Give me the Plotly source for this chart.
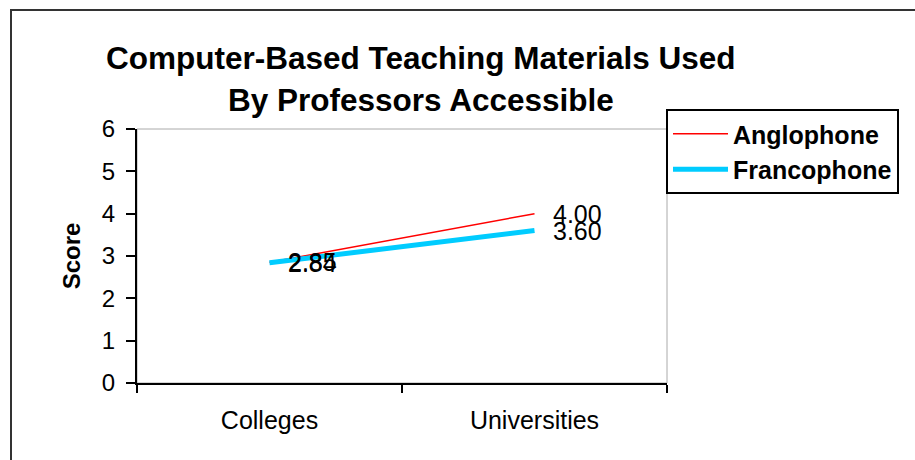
import plotly.graph_objects as go

categories = ["Colleges", "Universities"]
anglophone = [2.85, 4.00]
francophone = [2.84, 3.60]
series_names = ["Anglophone", "Francophone"]
title_lines = ["Computer-Based Teaching Materials Used", "By Professors Accessible"]

FONT = "Liberation Sans, Arial, sans-serif"

fig = go.Figure()
fig.add_trace(go.Scatter(x=categories, y=anglophone, mode="lines", name=series_names[0],
                         legendgroup="a", line=dict(color="#ff0000", width=1.5)))
fig.add_trace(go.Scatter(x=categories, y=francophone, mode="lines", name=series_names[1],
                         legendgroup="f", line=dict(color="#00ccff", width=5)))

for vals in (anglophone, francophone):
    for c, v in zip(categories, vals):
        fig.add_annotation(x=c, y=v, text=f"{v:.2f}", showarrow=False, xanchor="left",
                           yanchor="middle", xshift=16, font=dict(family=FONT, size=25, color="black"))

fig.add_annotation(xref="paper", yref="paper", x=(421 - 137) / 530, y=(383 - 58) / 254,
                   text=f"<b>{title_lines[0]}</b>", showarrow=False, xanchor="center", yanchor="middle",
                   font=dict(family=FONT, size=31.5, color="black"))
fig.add_annotation(xref="paper", yref="paper", x=(421 - 137) / 530, y=(383 - 100) / 254,
                   text=f"<b>{title_lines[1]}</b>", showarrow=False, xanchor="center", yanchor="middle",
                   font=dict(family=FONT, size=31.5, color="black"))

# outer frame
fig.add_shape(type="rect", xref="paper", yref="paper",
              x0=(11 - 137) / 530, x1=(925 - 137) / 530, y0=(383 - 470) / 254, y1=(383 - 10) / 254,
              line=dict(color="#333333", width=2), fillcolor="rgba(0,0,0,0)", layer="below")
# plot area border (gray top/right)
fig.add_shape(type="rect", xref="paper", yref="paper", x0=0, x1=1, y0=0, y1=1,
              line=dict(color="#aaaaaa", width=1), layer="below")

fig.update_layout(
    width=915, height=460,
    margin=dict(l=137, r=248, t=129, b=77),
    paper_bgcolor="white", plot_bgcolor="white",
    font=dict(family=FONT, color="black"),
    showlegend=True,
    legend=dict(x=(666 - 137) / 530, y=(383 - 109) / 254, xanchor="left", yanchor="top",
                bordercolor="black", borderwidth=2, bgcolor="white",
                font=dict(family=FONT, size=25, color="black", weight="bold"),
                itemwidth=55, tracegroupgap=3, traceorder="normal"),
    xaxis=dict(type="category", range=[-0.5, 1.5], showgrid=False, showline=True,
               linecolor="black", linewidth=2, ticks="outside", tickson="boundaries",
               ticklen=8, tickcolor="black", tickwidth=2, tickfont=dict(size=25),
               ticklabelstandoff=14, zeroline=False),
    yaxis=dict(range=[0, 6], dtick=1, showgrid=False, showline=True, linecolor="black",
               linewidth=2, ticks="outside", ticklen=9, tickcolor="black", tickwidth=2,
               tickfont=dict(size=24), ticklabelstandoff=6, zeroline=False,
               title=dict(text="<b>Score</b>", font=dict(size=24), standoff=14)),
)

fig.write_html("out.html")
